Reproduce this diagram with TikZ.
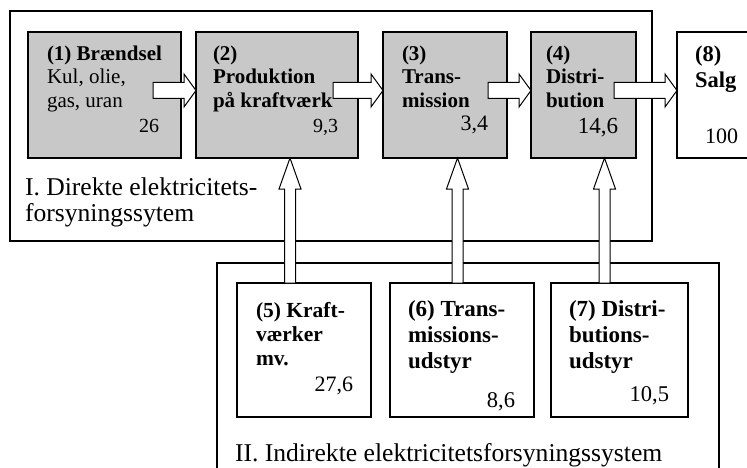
\documentclass[tikz,border=0pt]{standalone}
\usepackage{fontspec}
\setmainfont{Liberation Serif}
\usetikzlibrary{calc}
\definecolor{boxgray}{RGB}{200,200,200}
\newcommand{\harr}[2]{\draw[blk] ($(#1)+(0,-8)$) -- ($(#2)+(-12,-8)$) -- ($(#2)+(-12,-16.5)$) -- (#2) -- ($(#2)+(-12,16.5)$) -- ($(#2)+(-12,8)$) -- ($(#1)+(0,8)$) -- cycle;}
\newcommand{\varr}[2]{\draw[blk] ($(#1)+(-5.5,0)$) -- ($(#2)+(-5.5,31)$) -- ($(#2)+(-11,31)$) -- (#2) -- ($(#2)+(11,31)$) -- ($(#2)+(5.5,31)$) -- ($(#1)+(5.5,0)$) -- cycle;}

\begin{document}
\begin{tikzpicture}[x=1pt,y=-1pt,line width=1.5pt,
  every node/.style={inner sep=0pt,outer sep=0pt},
  sys/.style={draw,anchor=north west},
  stage/.style={draw,fill=boxgray,anchor=north west,minimum height=126pt},
  equip/.style={draw,fill=white,anchor=north west,minimum height=134pt},
  lbl/.style={anchor=north west,align=left,font=\fontsize{21}{23.5}\selectfont},
  lblb/.style={lbl,font=\fontsize{21}{23.5}\selectfont\bfseries},
  lbll/.style={lbl,font=\fontsize{23}{26}\selectfont\bfseries},
  big/.style={align=left,font=\fontsize{25.6}{26}\selectfont},
  num/.style={anchor=base east,font=\fontsize{20}{22}\selectfont},
  blk/.style={draw,fill=white,line width=1pt}]
  \useasboundingbox (0,0) rectangle (747,468);
  \clip (0,0) rectangle (747,468);
  \node (dir) at (10,11) [sys,minimum width=642pt,minimum height=230pt] {};
  \node (ind) at (217,263) [sys,minimum width=502pt,minimum height=240pt] {};
  \node (b1) at (28,32) [stage,minimum width=153pt] {};
  \node (b2) at (196,32) [stage,minimum width=162pt] {};
  \node (b3) at (383,32) [stage,minimum width=124pt] {};
  \node (b4) at (531,32) [stage,minimum width=105pt] {};
  \node (b8) at (677,32) [stage,fill=white,minimum width=90pt] {};
  \node (b5) at (237,283) [equip,minimum width=134pt] {};
  \node (b6) at (390,283) [equip,minimum width=144pt] {};
  \node (b7) at (551,283) [equip,minimum width=137pt] {};
  \coordinate (s1) at ($(b1.east)+(-28,-4.5)$);
  \coordinate (e1) at ($(b2.west)+(0,-4.5)$);
  \coordinate (s2) at ($(b2.east)+(-25,-4.5)$);
  \coordinate (e2) at ($(b3.west)+(0,-4.5)$);
  \coordinate (s3) at ($(b3.east)+(-19,-4.5)$);
  \coordinate (e3) at ($(b4.west)+(0,-4.5)$);
  \coordinate (s4) at ($(b4.east)+(-22,-4.5)$);
  \coordinate (e4) at ($(b8.west)+(0,-4.5)$);
  \coordinate (v5) at ($(b5.north)+(-14,0)$);
  \coordinate (v6) at ($(b6.north)+(-4.5,0)$);
  \coordinate (v7) at ($(b7.north)+(-15,0)$);
  \harr{s1}{e1} \harr{s2}{e2} \harr{s3}{e3} \harr{s4}{e4}
  \varr{v5}{b2.south -| v5} \varr{v6}{b3.south -| v6} \varr{v7}{b4.south -| v7}
  \node (t1) at ($(b1.north west)+(19,13.5)$) [lbl] {\textbf{(1) Brændsel}\\Kul, olie,\\gas, uran};
  \node (t2) at ($(b2.north west)+(17,13.5)$) [lblb] {(2)\\Produktion\\på kraftværk};
  \node (t3) at ($(b3.north west)+(19,13.5)$) [lblb] {(3)\\Trans-\\mission};
  \node (t4) at ($(b4.north west)+(15,13.5)$) [lblb] {(4)\\Distri-\\bution};
  \node (t8) at ($(b8.north west)+(18,13.5)$) [lbl,font=\fontsize{22.5}{26}\selectfont\bfseries] {(8)\\Salg};
  \node (t5) at ($(b5.north west)+(19,19)$) [lbl,font=\fontsize{21.5}{24}\selectfont\bfseries] {(5) Kraft-\\værker\\mv.};
  \node (t6) at ($(b6.north west)+(18,18)$) [lbll] {(6) Trans-\\missions-\\udstyr};
  \node (t7) at ($(b7.north west)+(18,18)$) [lbll] {(7) Distri-\\butions-\\udstyr};
  \node (n1) at ($(b1.south east)+(-22,-25)$) [num] {26};
  \node (n2) at ($(b2.south east)+(-20,-26)$) [num] {9,3};
  \node (n3) at ($(b3.south east)+(-19,-27)$) [num,font=\fontsize{22}{24}\selectfont] {3,4};
  \node (n4) at ($(b4.south east)+(-18,-24)$) [num,font=\fontsize{23}{24}\selectfont] {14,6};
  \node (n8) at ($(b8.south west)+(28,-15)$) [num,anchor=base west,font=\fontsize{22}{24}\selectfont] {100};
  \node (n5) at ($(b5.south east)+(-18,-25.5)$) [num,font=\fontsize{22}{24}\selectfont] {27,6};
  \node (n6) at ($(b6.south east)+(-19,-10)$) [num,font=\fontsize{22.5}{24}\selectfont] {8,6};
  \node (n7) at ($(b7.south east)+(-19,-16)$) [num,font=\fontsize{22.5}{24}\selectfont] {10,5};
  \node (lI) at (25,178) [big,anchor=north west] {I. Direkte elektricitets-\\forsyningssytem};
  \node (lII) at (235,461) [big,anchor=base west] {II. Indirekte elektricitetsforsyningssystem};
\end{tikzpicture}
\end{document}
